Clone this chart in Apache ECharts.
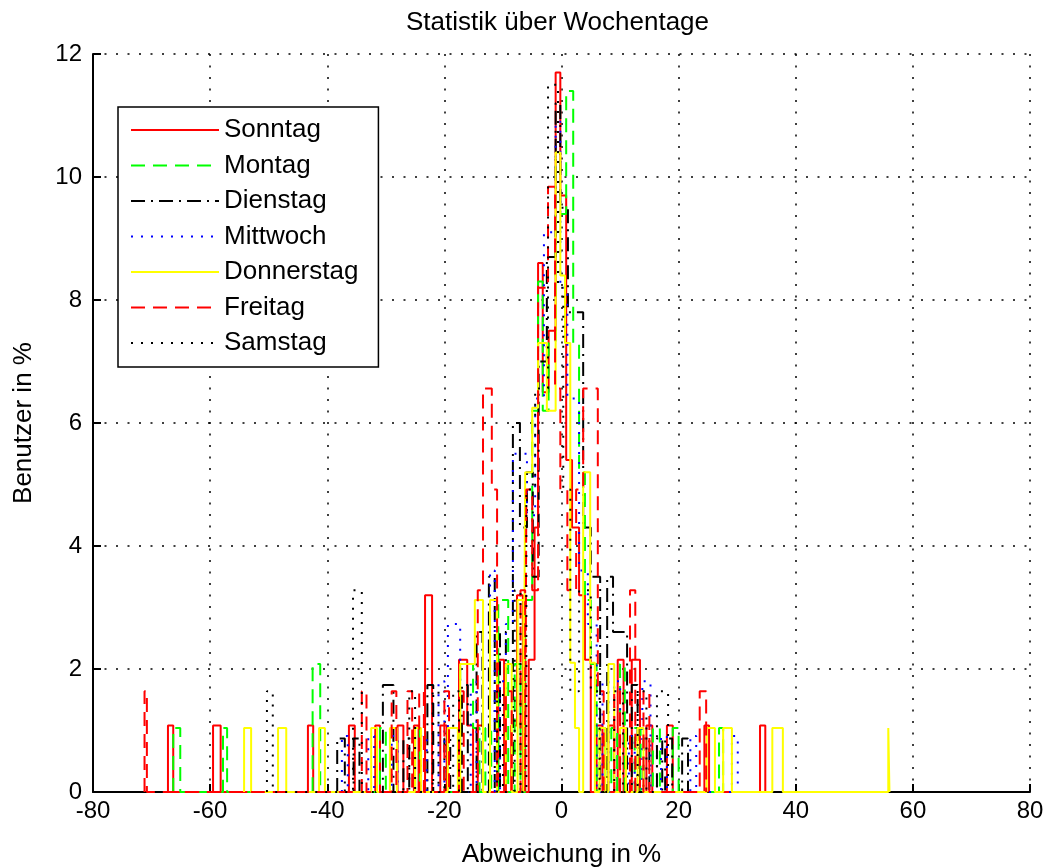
<!DOCTYPE html>
<html>
<head>
<meta charset="utf-8">
<script src="https://cdn.jsdelivr.net/npm/echarts@6/dist/echarts.min.js"></script>
<style>html,body{margin:0;padding:0;background:#fff}#c{width:1048px;height:867px}</style>
</head>
<body>
<div id="c"></div>
<script>
// Histogram bins per weekday: [left edge, right edge, Benutzer in %]
const sonntag = [
  [-67.2,-66.3,1.08],[-59.5,-58.2,1.08],[-43.3,-42.4,1.08],[-36.3,-35.3,1.08],[-31.8,-31.0,1.08],
  [-28.0,-27.0,1.08],[-25.2,-24.4,1.08],[-23.3,-22.1,3.2],[-20.7,-19.6,1.08],[-17.5,-16.1,2.15],
  [-16.1,-15.1,1.08],[-14.3,-13.4,1.08],[-10.8,-9.8,2.15],[-8.6,-7.6,1.08],[-7.6,-6.6,3.2],
  [-5.6,-4.6,2.15],[-4.6,-4.0,4.3],[-4.0,-3.2,8.6],[-3.2,-2.2,6.5],[-2.2,-1.0,7.5],
  [-1.0,-0.2,11.7],[-0.2,0.8,9.7],[0.8,1.8,5.4],[1.8,3.0,4.3],[3.0,4.0,3.2],[4.0,5.0,2.15],
  [6.0,7.0,1.08],[8.0,9.0,1.08],[9.6,10.6,2.15],[12.0,13.4,2.15],[14.5,15.5,1.08],
  [18.0,19.0,1.08],[24.4,25.2,1.08],[33.9,34.8,1.08]
];
const montag = [
  [-66.3,-65.1,1.04],[-57.8,-57.1,1.04],[-42.5,-41.2,2.08],[-31.0,-30.0,1.04],[-25.0,-24.2,1.04],
  [-17.3,-15.1,2.08],[-15.1,-14.0,1.04],[-13.0,-12.0,1.04],[-10.8,-9.1,3.12],[-8.0,-7.0,2.08],
  [-6.2,-5.0,3.12],[-5.0,-4.0,6.2],[-4.0,-3.2,8.3],[-3.2,-2.2,6.2],[-2.2,-1.0,7.3],
  [-1.0,0.8,9.4],[0.8,2.0,11.4],[2.0,3.0,7.3],[3.0,4.0,5.2],[4.0,5.0,3.12],[5.0,6.0,2.08],
  [6.5,7.5,1.04],[8.5,9.5,1.04],[10.0,10.8,2.08],[12.5,13.5,1.04],[15.6,16.8,1.04],
  [19.0,20.0,1.04],[26.9,27.6,1.04]
];
const dienstag = [
  [-38.3,-37.0,0.87],[-35.5,-34.5,0.87],[-30.5,-28.7,1.74],[-27.0,-26.0,0.87],[-22.9,-21.9,1.74],
  [-20.0,-19.0,0.87],[-17.0,-16.0,1.74],[-14.5,-13.5,2.6],[-12.4,-11.4,3.5],[-10.5,-9.5,2.6],
  [-8.3,-7.1,6.0],[-7.1,-5.9,4.3],[-5.9,-4.9,5.2],[-4.9,-3.9,3.5],[-3.9,-2.5,7.0],
  [-2.5,-1.0,8.7],[-1.0,-0.2,11.2],[-0.2,1.1,9.5],[1.1,3.7,7.8],[3.7,5.0,4.3],[5.0,6.6,3.5],
  [7.8,8.8,3.5],[8.8,10.0,2.6],[10.0,11.2,2.6],[12.0,13.0,1.74],[14.0,15.0,0.87],
  [16.3,17.2,0.87],[17.7,18.9,0.87],[20.6,21.6,0.87]
];
const mittwoch = [
  [-37.5,-36.5,0.91],[-33.0,-32.0,0.91],[-29.0,-28.0,0.91],[-24.0,-23.0,0.91],[-21.0,-20.0,1.8],
  [-19.4,-17.3,2.73],[-15.5,-14.5,1.8],[-12.2,-11.4,3.6],[-10.5,-9.5,1.8],[-9.5,-8.3,2.73],
  [-8.3,-5.9,5.5],[-5.9,-4.5,4.5],[-4.5,-3.0,6.4],[-3.0,-1.0,9.1],[-1.0,-0.2,10.9],
  [-0.2,1.0,8.2],[1.0,3.0,6.4],[3.0,4.5,3.6],[4.5,6.0,2.73],[7.0,8.0,1.8],[9.0,10.0,1.8],
  [11.5,12.5,0.91],[13.8,15.2,1.8],[17.0,18.0,0.91],[22.0,23.0,0.91],[29.1,30.1,0.91]
];
const donnerstag = [
  [-54.2,-53.0,1.04],[-48.4,-47.0,1.04],[-41.4,-40.4,1.04],[-32.5,-31.5,1.04],[-29.3,-28.1,1.04],
  [-25.0,-24.0,1.04],[-19.4,-17.7,1.04],[-17.3,-14.8,2.08],[-14.8,-13.4,3.12],[-12.2,-11.0,3.12],
  [-9.5,-8.5,2.08],[-7.5,-6.5,3.12],[-6.2,-5.0,5.2],[-5.0,-4.0,6.25],[-4.0,-2.5,7.3],
  [-2.5,-1.0,6.2],[-1.0,-0.2,10.4],[-0.2,0.6,8.4],[0.6,1.5,7.3],[1.5,2.3,2.1],[2.3,3.0,1.04],
  [3.7,4.9,5.2],[4.9,5.7,2.1],[6.5,7.5,1.04],[8.0,9.0,2.08],[10.0,11.0,1.04],[13.0,14.0,1.04],
  [24.8,26.2,1.04],[27.6,29.1,1.04],[36.0,37.8,1.04],[55.8,56.0,1.04]
];
const freitag = [
  [-71.2,-70.8,1.64],[-34.1,-33.3,1.64],[-29.0,-28.2,1.64],[-26.3,-25.5,1.64],[-24.3,-23.5,1.64],
  [-20.0,-19.2,1.64],[-17.5,-16.7,1.64],[-14.3,-13.4,3.28],[-13.4,-11.9,6.56],[-11.9,-11.0,4.92],
  [-9.5,-8.5,1.64],[-7.0,-6.2,3.28],[-6.0,-5.0,4.92],[-5.0,-4.0,3.28],[-4.0,-2.3,8.2],
  [-2.3,-1.1,9.84],[-1.1,-0.2,6.56],[-0.2,1.0,4.92],[1.0,2.5,3.28],[2.5,3.7,4.92],
  [3.7,6.2,6.56],[6.2,7.2,1.64],[9.0,10.0,1.64],[11.7,12.6,3.28],[14.0,15.0,1.64],[23.6,24.7,1.64]
];
const samstag = [
  [-50.3,-49.3,1.64],[-35.6,-34.1,3.28],[-26.0,-25.0,1.64],[-22.0,-21.0,1.64],[-18.5,-17.5,1.64],
  [-11.0,-10.0,1.64],[-8.0,-7.0,3.28],[-6.0,-4.5,4.92],[-4.5,-2.3,6.56],[-2.3,-0.6,11.5],
  [-0.6,0.3,8.2],[0.3,1.5,4.92],[1.5,3.0,1.64],[3.0,5.0,3.28],[5.0,6.5,1.64],[9.0,10.5,1.64],
  [13.0,14.5,1.64],[16.3,18.2,1.64]
];
const xTicks = [-80,-60,-40,-20,0,20,40,60,80];
const yTicks = [0,2,4,6,8,10,12];

function stairs(bins){
  const pts=[]; let x=null;
  bins.slice().sort((a,b)=>a[0]-b[0]).forEach(([l,r,h])=>{
    if(x===null){pts.push([l,0]);}
    else if(l>x+1e-9){pts.push([x,0]);pts.push([l,0]);}
    pts.push([l,h]);pts.push([r,h]);x=r;
  });
  pts.push([x,0]);
  return pts;
}
const FONT='Liberation Sans';
const defs=[
  ['Sonntag',sonntag,'#ff0000','solid'],
  ['Montag',montag,'#00ff00',[14,8]],
  ['Dienstag',dienstag,'#000000',[14,6,2,6]],
  ['Mittwoch',mittwoch,'#0000ff',[2,8]],
  ['Donnerstag',donnerstag,'#ffff00','solid'],
  ['Freitag',freitag,'#ff0000',[14,8]],
  ['Samstag',samstag,'#000000',[2,8]]
];
const chart=echarts.init(document.getElementById('c'),null,{renderer:'canvas'});
chart.setOption({
  animation:false,
  backgroundColor:'#ffffff',
  title:{text:'Statistik über Wochentage',left:406,top:10,padding:0,
    textStyle:{fontFamily:FONT,fontSize:26,fontWeight:'normal',color:'#000'}},
  grid:{left:93,right:18,top:54,bottom:75,containLabel:false,outerBoundsMode:'none'},
  legend:{orient:'vertical',left:118,top:107,padding:[10,20,11,12],
    itemWidth:88,itemHeight:14,itemGap:9.5,
    itemStyle:{opacity:0},
    backgroundColor:'#fff',borderColor:'#000',borderWidth:1.5,
    textStyle:{fontFamily:FONT,fontSize:26,color:'#000',lineHeight:26},
    data:defs.map(d=>d[0])},
  xAxis:{type:'value',min:-80,max:80,interval:20,
    name:'Abweichung in %',nameLocation:'middle',nameGap:50,
    nameTextStyle:{fontFamily:FONT,fontSize:26,color:'#000'},
    axisLine:{show:true,onZero:false,lineStyle:{color:'#000',width:2}},
    axisTick:{show:true,inside:true,length:8,lineStyle:{color:'#000',width:2}},
    axisLabel:{fontFamily:FONT,fontSize:24,color:'#000',margin:7,
      formatter:v=>xTicks.includes(v)?String(v):''},
    splitLine:{show:true,lineStyle:{color:'#000',width:1.5,type:[2,9.5]}}},
  yAxis:{type:'value',min:0,max:12,interval:2,
    name:'Benutzer in %',nameLocation:'middle',nameGap:56,nameRotate:90,
    nameTextStyle:{fontFamily:FONT,fontSize:26,color:'#000'},
    axisLine:{show:true,onZero:false,lineStyle:{color:'#000',width:2}},
    axisTick:{show:true,inside:true,length:8,lineStyle:{color:'#000',width:2}},
    axisLabel:{fontFamily:FONT,fontSize:24,color:'#000',margin:11,
      formatter:v=>yTicks.includes(v)?String(v):''},
    splitLine:{show:true,lineStyle:{color:'#000',width:1.5,type:[2,9.5]}}},
  series:defs.map(([n,b,c,t])=>({
    name:n,type:'line',data:stairs(b),symbol:'none',showSymbol:false,
    clip:true,
    lineStyle:{color:c,width:2,type:t},itemStyle:{color:c}
  }))
});
</script>
</body>
</html>
